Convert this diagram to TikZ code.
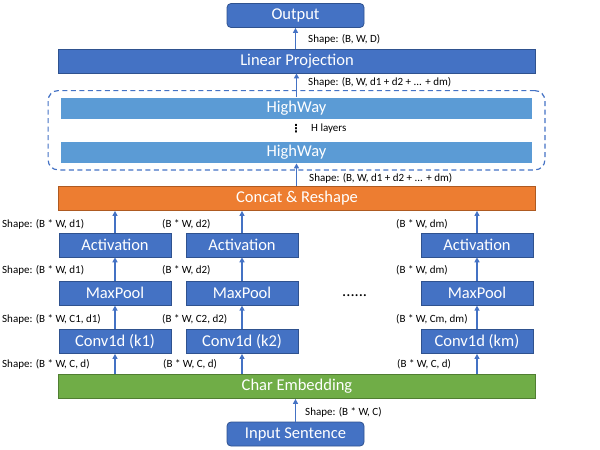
\documentclass[tikz,border=0pt]{standalone}
\usepackage{fontspec}
\setmainfont{Carlito}
\newfontfamily\symfont{DejaVu Sans}
\usetikzlibrary{arrows.meta,positioning,fit}
\definecolor{nnblue}{HTML}{4472C4}
\definecolor{nnblueln}{HTML}{2F528F}
\definecolor{nnlight}{HTML}{5B9BD5}
\definecolor{nnorange}{HTML}{ED7D31}
\definecolor{nnorangeln}{HTML}{AE5A21}
\definecolor{nngreen}{HTML}{70AD47}
\definecolor{nngreenln}{HTML}{507E32}
\tikzset{
  nblk/.style={rectangle, draw=nnblueln, fill=nnblue, line width=0.8pt, text=white, inner sep=0pt,
               font=\fontsize{16.5}{18}\selectfont, minimum height=24pt},
  cblk/.style={nblk, minimum width=112pt},
  wblk/.style={nblk, minimum width=477pt},
  hwblk/.style={wblk, fill=nnlight, draw=white, minimum width=472pt, minimum height=22pt},
  narr/.style={-{Triangle[length=5pt,width=5pt]}, line width=1.3pt, nnblue},
  shp/.style={anchor=west, inner sep=0pt, font=\fontsize{11}{13}\selectfont},
}

\begin{document}
\begin{tikzpicture}[x=1pt,y=-1pt,node distance=23.5pt]
        \useasboundingbox (0,0) rectangle (600,450);
        % main column
        \node[nblk,rounded corners=4pt,minimum width=137pt](out) at (295.5,15.5){Output};
        \node[wblk](lp) at (297,61){Linear Projection};
        \node[hwblk](hw1) at (296.5,108.5){HighWay};
        \node[hwblk](hw2) at (296.5,152){HighWay};
        \node[draw=nnblue,dash pattern=on 5pt off 3.5pt,line width=1.2pt,rounded corners=10pt,inner xsep=12pt,inner ysep=6.5pt,fit=(hw1)(hw2)](grp){};
        \node[wblk,fill=nnorange,draw=nnorangeln](cat) at (297,198.5){Concat \& Reshape};
        \node[wblk,fill=nngreen,draw=nngreenln](emb) at (297,386.5){Char Embedding};
        \node[nblk,rounded corners=4pt,minimum width=137pt](in) at (295.5,434){Input Sentence};
        % conv branches
        \node[cblk](c1) at (115,341.5){Conv1d (k1)};
        \node[cblk](c2) at (242,341.5){Conv1d (k2)};
        \node[cblk](cm) at (477,341.5){Conv1d (km)};
        \node[cblk,above=of c1](m1){MaxPool};
        \node[cblk,above=of c2](m2){MaxPool};
        \node[cblk,above=of cm](mm){MaxPool};
        \node[cblk,above=of m1](a1){Activation};
        \node[cblk,above=of m2](a2){Activation};
        \node[cblk,above=of mm](am){Activation};
        \node[anchor=base west,inner sep=0pt,font=\fontsize{16.5}{18}\selectfont](gap) at (342,296){......};
        % arrows
        \draw[narr](in.north)--(in.north|-emb.south);
        \draw[narr](emb.north-|c1)--(c1.south);\draw[narr](c1)--(m1);\draw[narr](m1)--(a1);\draw[narr](a1.north)--(a1.north|-cat.south);
        \draw[narr](emb.north-|c2)--(c2.south);\draw[narr](c2)--(m2);\draw[narr](m2)--(a2);\draw[narr](a2.north)--(a2.north|-cat.south);
        \draw[narr](emb.north-|cm)--(cm.south);\draw[narr](cm)--(mm);\draw[narr](mm)--(am);\draw[narr](am.north)--(am.north|-cat.south);
        \draw[narr](cat.north-|hw2)--(hw2.south);
        \draw[narr](hw1.north)--(hw1.north|-lp.south);
        \draw[narr](lp.north-|out)--(out.south);
        % shape labels
        \node[shp](s0) at (308,39){Shape: (B, W, D)};
        \node[shp](s1) at (308,82){Shape: (B, W, d1 + d2 + ... + dm)};
        \node[inner sep=0pt,font=\symfont\bfseries\fontsize{11}{11}\selectfont](dots) at (296,129){⋮};
        \node[shp](hl) at (311,129){H layers};
        \node[shp](s2) at (309,178){Shape: (B, W, d1 + d2 + ... + dm)};
        \node[shp](a1s) at (2,224){Shape: (B * W, d1)};
        \node[shp](a2s) at (162,224){(B * W, d2)};
        \node[shp](ams) at (396,224){(B * W, dm)};
        \node[shp](m1s) at (2,270.5){Shape: (B * W, d1)};
        \node[shp](m2s) at (162,270.5){(B * W, d2)};
        \node[shp](mms) at (396,270.5){(B * W, dm)};
        \node[shp](c1s) at (2,319){Shape: (B * W, C1, d1)};
        \node[shp](c2s) at (162,319){(B * W, C2, d2)};
        \node[shp](cms) at (396,319){(B * W, Cm, dm)};
        \node[shp](e1s) at (2,364){Shape: (B * W, C, d)};
        \node[shp](e2s) at (163,364){(B * W, C, d)};
        \node[shp](ems) at (397,364){(B * W, C, d)};
        \node[shp](ins) at (305,412){Shape: (B * W, C)};
    \end{tikzpicture}
\end{document}
